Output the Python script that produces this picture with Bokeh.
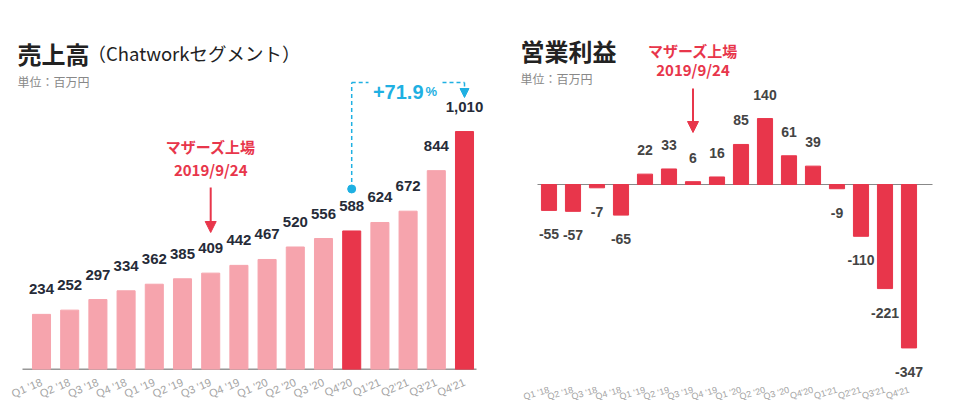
from bokeh.plotting import figure
from bokeh.models import Range1d, FixedTicker, Label, Arrow, NormalHead, ColumnDataSource
from bokeh.layouts import row
from bokeh.embed import file_html
from bokeh.resources import INLINE
from bokeh.core.properties import value

# ---------------- data ----------------
quarters = ["Q1 '18", "Q2 '18", "Q3 '18", "Q4 '18", "Q1 '19", "Q2 '19", "Q3 '19", "Q4 '19",
            "Q1 '20", "Q2 '20", "Q3 '20", "Q4'20", "Q1'21", "Q2'21", "Q3'21", "Q4'21"]
revenue = [234, 252, 297, 334, 362, 385, 409, 442, 467, 520, 556, 588, 624, 672, 844, 1010]
highlight = ["Q4'20", "Q4'21"]
op_income = [-55, -57, -7, -65, 22, 33, 6, 16, 85, 140, 61, 39, -9, -110, -221, -347]
listing_quarter = "Q3 '19"
growth_from, growth_to = "Q4'20", "Q4'21"
growth_label = "+71.9"
listing_text = ["マザーズ上場", "2019/9/24"]

PINK = "#f6a4ad"
RED = "#e8364b"
CYAN = "#1fb0e2"
JP = "Noto Sans CJK JP"
AR = "Liberation Sans"

idx = list(range(len(quarters)))
li = quarters.index(listing_quarter)

# ---------------- left: revenue ----------------
L_PX = 0.2356      # px per unit (y)
L_XPX = 28.2       # px per category
L_X0, L_BASE = 41, 369   # pixel of first category / baseline
L_LEFT, L_RIGHT = 12, 492


def lx(px):
    return (px - L_X0) / L_XPX


def ly(py):
    return (L_BASE - py) / L_PX


lp = figure(frame_width=L_RIGHT - L_LEFT, frame_height=L_BASE, output_backend="svg",
            toolbar_location=None,
            x_range=Range1d(lx(L_LEFT), lx(L_RIGHT)), y_range=Range1d(0, ly(0)),
            y_axis_location=None, min_border_left=L_LEFT, min_border_right=6,
            min_border_top=0, min_border_bottom=41)
lp.outline_line_color = None
lp.xgrid.visible = False
lp.ygrid.visible = False

colors = [RED if q in highlight else PINK for q in quarters]
src = ColumnDataSource(dict(x=idx, top=revenue, color=colors,
                            label=[f"{v:,}" for v in revenue]))
lp.segment(x0=[lx(22)], y0=[0], x1=[lx(476)], y1=[0], line_color="#333333", line_width=1.5)
lp.vbar(x="x", top="top", bottom=0, width=0.64, color="color", source=src)
lp.text(x="x", y="top", text="label", source=src, y_offset=-25, text_align="center",
        text_baseline="middle", text_font=value(AR), text_font_style="bold",
        text_font_size="15px", text_color="#262b38")

ax = lp.xaxis[0]
ax.ticker = FixedTicker(ticks=idx)
ax.major_label_overrides = {i: q for i, q in enumerate(quarters)}
ax.major_label_orientation = 0.4
ax.major_label_text_font = AR
ax.major_label_text_font_size = "11px"
ax.major_label_text_color = "#a3a3a3"
ax.major_tick_line_color = None
ax.minor_tick_line_color = None
ax.axis_line_color = None
ax.major_label_standoff = 6

# listing annotation (left)
lp.text(x=[li, li], y=[ly(146), ly(169)], text=listing_text,
        text_align="center", text_baseline="middle", text_font=value(JP),
        text_font_style="bold", text_font_size="15px", text_color=RED)
lp.add_layout(Arrow(end=NormalHead(size=11, fill_color=RED, line_color=RED),
                    x_start=li, y_start=ly(187), x_end=li, y_end=ly(232),
                    line_color=RED, line_width=2))

# growth annotation
gi, gj = quarters.index(growth_from), quarters.index(growth_to)
dot_y = revenue[gi] + 42 / L_PX
top_y = ly(82)
lp.scatter(x=[gi], y=[dot_y], size=8, color=CYAN)
lp.segment(x0=[gi, gi, lx(442)], y0=[dot_y, top_y, top_y],
           x1=[gi, lx(368), gj], y1=[top_y, top_y, top_y],
           line_color=CYAN, line_width=1.5, line_dash="4 3")
lp.add_layout(Arrow(end=NormalHead(size=9, fill_color=CYAN, line_color=CYAN),
                    x_start=gj, y_start=top_y, x_end=gj, y_end=ly(97),
                    line_color=CYAN, line_width=1.5, line_dash="4 3"))
lp.text(x=[lx(423)], y=[ly(91)], text=[growth_label], text_align="right",
        text_baseline="alphabetic", text_font=value(AR), text_font_style="bold",
        text_font_size="20px", text_color=CYAN)
lp.text(x=[lx(425)], y=[ly(91)], text=["%"], text_align="left",
        text_baseline="alphabetic", text_font=value(AR), text_font_style="bold",
        text_font_size="13px", text_color=CYAN)

# titles (left) -- screen units relative to frame
lp.add_layout(Label(x=17 - L_LEFT, y=L_BASE - 53, x_units="screen", y_units="screen",
                    text="売上高", text_font=JP, text_font_style="bold",
                    text_font_size="24px", text_color="#222222", text_baseline="middle"))
lp.add_layout(Label(x=87 - L_LEFT, y=L_BASE - 52, x_units="screen", y_units="screen",
                    text="（Chatworkセグメント）", text_font=JP, text_font_size="18.5px",
                    text_color="#222222", text_baseline="middle"))
lp.add_layout(Label(x=17 - L_LEFT, y=L_BASE - 81, x_units="screen", y_units="screen",
                    text="単位：百万円", text_font=JP, text_font_size="12px",
                    text_color="#888888", text_baseline="middle"))

# ---------------- right: operating income ----------------
R_PX = 0.471
R_XPX = 24.0
R_X0, R_ZERO, R_BOTTOM = 548.5, 184, 378
R_LEFT, R_RIGHT = 505, 950
R_ORIGIN = 498


def rx(px):
    return (px - R_X0) / R_XPX


def ry(py):
    return (R_ZERO - py) / R_PX


rp = figure(frame_width=R_RIGHT - R_LEFT, frame_height=R_BOTTOM, output_backend="svg",
            toolbar_location=None,
            x_range=Range1d(rx(R_LEFT), rx(R_RIGHT)), y_range=Range1d(ry(R_BOTTOM), ry(0)),
            y_axis_location=None, min_border_left=R_LEFT - R_ORIGIN, min_border_right=0,
            min_border_top=0, min_border_bottom=32)
rp.outline_line_color = None
rp.xgrid.visible = False
rp.ygrid.visible = False

rsrc = ColumnDataSource(dict(x=idx, top=op_income, label=[str(v) for v in op_income],
                             off=[-24 if v >= 0 else 24 for v in op_income]))
rp.segment(x0=[rx(537)], y0=[0], x1=[rx(932)], y1=[0], line_color="#888888", line_width=1.2)
rp.vbar(x="x", top="top", bottom=0, width=0.63, color=RED, source=rsrc)
rp.text(x="x", y="top", text="label", source=rsrc, y_offset="off", text_align="center",
        text_baseline="middle", text_font=value(AR), text_font_style="bold",
        text_font_size="14px", text_color="#444444")

rax = rp.xaxis[0]
rax.ticker = FixedTicker(ticks=idx)
rax.major_label_overrides = {i: q for i, q in enumerate(quarters)}
rax.major_label_orientation = 0.28
rax.major_label_text_font = AR
rax.major_label_text_font_size = "9px"
rax.major_label_text_color = "#a3a3a3"
rax.major_tick_line_color = None
rax.minor_tick_line_color = None
rax.axis_line_color = None
rax.major_label_standoff = 5

rp.text(x=[li, li], y=[ry(50), ry(69)], text=listing_text,
        text_align="center", text_baseline="middle", text_font=value(JP),
        text_font_style="bold", text_font_size="15px", text_color=RED)
rp.add_layout(Arrow(end=NormalHead(size=11, fill_color=RED, line_color=RED),
                    x_start=li, y_start=ry(88), x_end=li, y_end=ry(132),
                    line_color=RED, line_width=2))

rp.add_layout(Label(x=520 - R_LEFT, y=R_BOTTOM - 50, x_units="screen", y_units="screen",
                    text="営業利益", text_font=JP, text_font_style="bold",
                    text_font_size="24px", text_color="#222222", text_baseline="middle"))
rp.add_layout(Label(x=520 - R_LEFT, y=R_BOTTOM - 78, x_units="screen", y_units="screen",
                    text="単位：百万円", text_font=JP, text_font_size="12px",
                    text_color="#888888", text_baseline="middle"))

layout = row(lp, rp)
open("out.html", "w").write(file_html(layout, INLINE))
